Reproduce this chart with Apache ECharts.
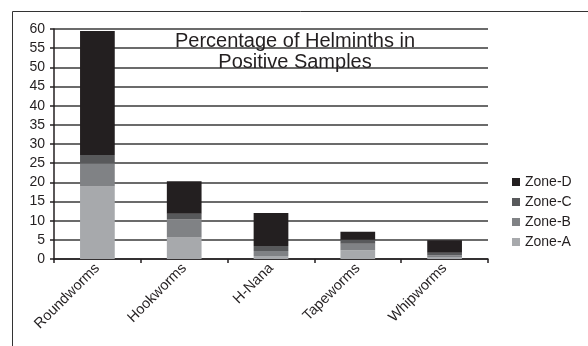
<!DOCTYPE html>
<html>
<head>
<meta charset="utf-8">
<script src="https://cdn.jsdelivr.net/npm/echarts@6/dist/echarts.min.js"></script>
<style>
  html, body { margin: 0; padding: 0; background: #fff; }
  #main { width: 588px; height: 346px; }
</style>
</head>
<body>
<div id="main"></div>
<script>
// values (each zone's share of the stack)
const categories = ["Roundworms", "Hookworms", "H-Nana", "Tapeworms", "Whipworms"];
const zoneA = [18.9, 5.6, 0.8, 2.3, 0.5];
const zoneB = [6.0, 4.7, 1.3, 1.7, 0.5];
const zoneC = [2.2, 1.5, 1.3, 1.0, 0.6];
const zoneD = [32.4, 8.5, 8.6, 2.1, 3.3];
const yTicks = [0, 5, 10, 15, 20, 25, 30, 35, 40, 45, 50, 55, 60];

const zones = [
  { name: "Zone-A", data: zoneA, color: "#a7a9ac" },
  { name: "Zone-B", data: zoneB, color: "#808285" },
  { name: "Zone-C", data: zoneC, color: "#58595b" },
  { name: "Zone-D", data: zoneD, color: "#231f20" },
];

const textColor = "#231f20";
const font = "Liberation Sans, Arial, sans-serif";

const options = {
  animation: false,
  textStyle: { fontFamily: font },
  graphic: [
    {
      type: "rect",
      shape: { x: 12.5, y: 11.5, width: 620, height: 400 },
      style: { fill: "none", stroke: "#333", lineWidth: 1 },
      silent: true,
    },
  ],
  title: {
    text: "Percentage of Helminths in\nPositive Samples",
    left: 290,
    top: 26,
    textAlign: "center",
    textStyle: {
      fontFamily: font,
      fontSize: 20,
      fontWeight: "normal",
      color: textColor,
      lineHeight: 21,
    },
  },
  legend: {
    data: ["Zone-D", "Zone-C", "Zone-B", "Zone-A"],
    orient: "vertical",
    left: 507,
    top: 170,
    itemWidth: 8,
    itemHeight: 8,
    itemGap: 6,
    icon: "rect",
    textStyle: { fontFamily: font, fontSize: 14, color: textColor },
  },
  grid: { left: 54, right: 100, top: 29, bottom: 87 },
  xAxis: {
    type: "category",
    data: categories,
    axisLine: { lineStyle: { color: "#231f20", width: 1.5 } },
    axisTick: { show: true, length: 4, lineStyle: { color: "#231f20", width: 1.5 } },
    axisLabel: {
      rotate: 45,
      interval: 0,
      fontFamily: font,
      fontSize: 14.5,
      color: textColor,
      margin: 7,
    },
  },
  yAxis: {
    type: "value",
    min: 0,
    max: 60,
    interval: 5,
    axisLine: { show: true, lineStyle: { color: "#231f20", width: 1.5 } },
    axisTick: { show: true, length: 4, lineStyle: { color: "#231f20", width: 1.5 } },
    splitLine: { lineStyle: { color: "#3a3a3a", width: 1.5 } },
    axisLabel: {
      fontFamily: font,
      fontSize: 14,
      color: textColor,
      margin: 9,
      formatter: (v) => (yTicks.includes(v) ? String(v) : ""),
    },
  },
  series: zones.map((z) => ({
    name: z.name,
    type: "bar",
    stack: "total",
    data: z.data,
    barWidth: "40%",
    itemStyle: { color: z.color },
  })),
};

let myChart = echarts.init(document.getElementById("main"));
myChart.setOption(options);
</script>
</body>
</html>
